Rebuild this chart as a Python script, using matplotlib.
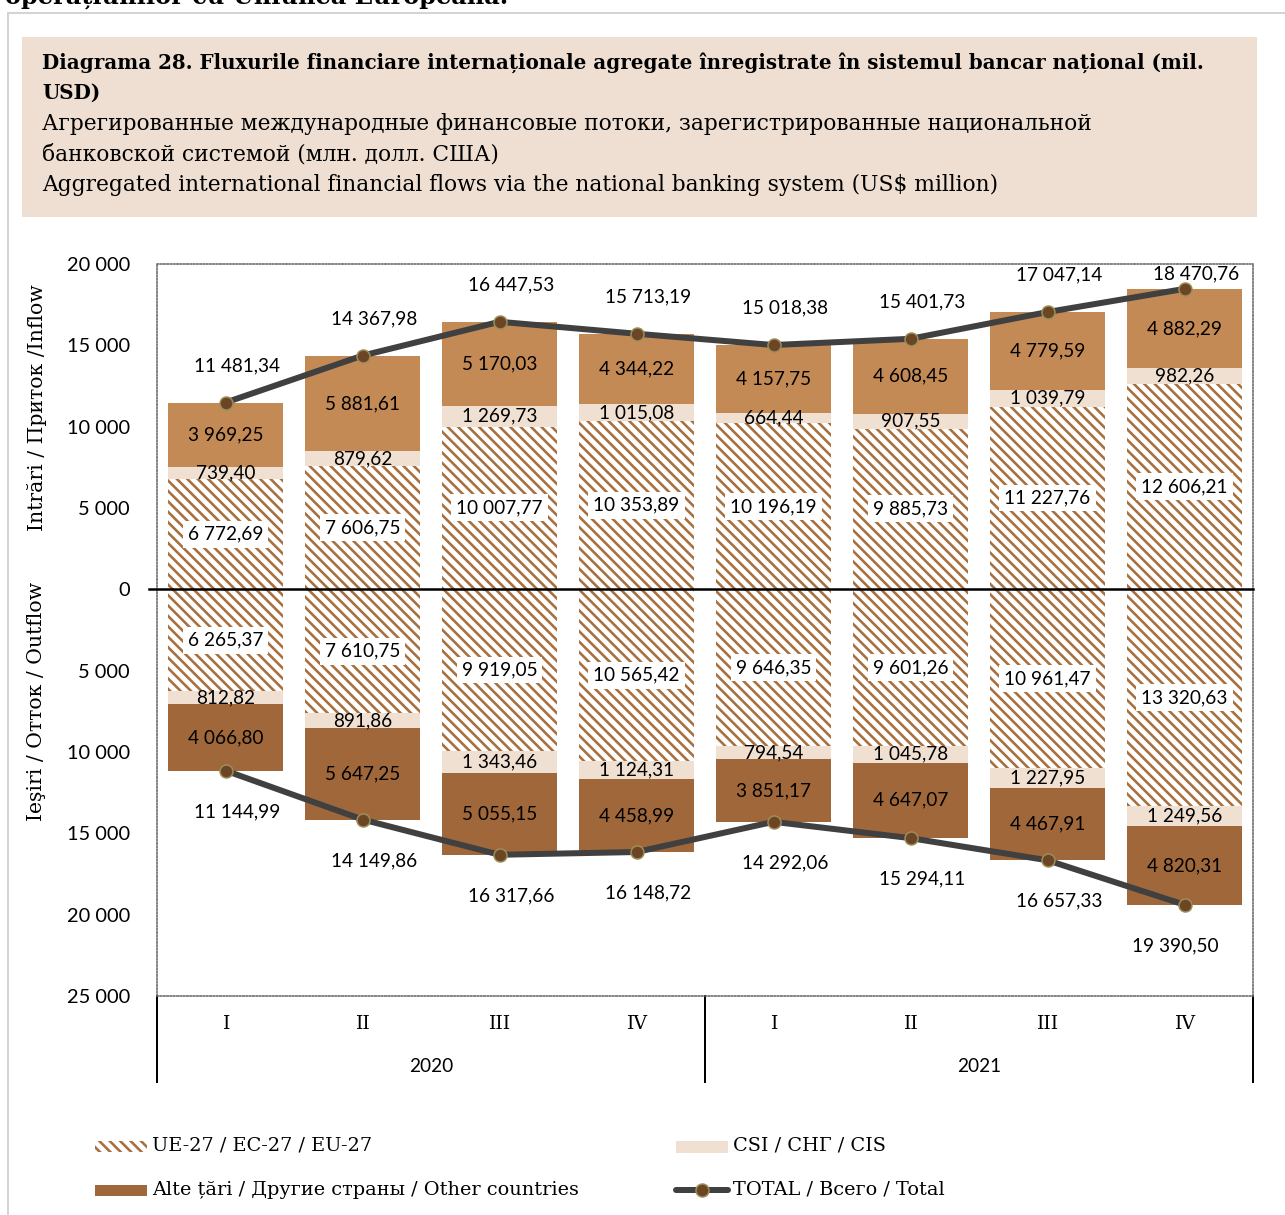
import matplotlib
matplotlib.use("Agg")
import matplotlib.pyplot as plt
from matplotlib.patches import Rectangle
from matplotlib.lines import Line2D
import numpy as np

# ---------------- data ----------------
quarters = ["I", "II", "III", "IV", "I", "II", "III", "IV"]
years = ["2020", "2021"]

in_eu = [6772.69, 7606.75, 10007.77, 10353.89, 10196.19, 9885.73, 11227.76, 12606.21]
in_cis = [739.40, 879.62, 1269.73, 1015.08, 664.44, 907.55, 1039.79, 982.26]
in_other = [3969.25, 5881.61, 5170.03, 4344.22, 4157.75, 4608.45, 4779.59, 4882.29]
in_total = [11481.34, 14367.98, 16447.53, 15713.19, 15018.38, 15401.73, 17047.14, 18470.76]

out_eu = [6265.37, 7610.75, 9919.05, 10565.42, 9646.35, 9601.26, 10961.47, 13320.63]
out_cis = [812.82, 891.86, 1343.46, 1124.31, 794.54, 1045.78, 1227.95, 1249.56]
out_other = [4066.80, 5647.25, 5055.15, 4458.99, 3851.17, 4647.07, 4467.91, 4820.31]
out_total = [11144.99, 14149.86, 16317.66, 16148.72, 14292.06, 15294.11, 16657.33, 19390.50]

yticks = [20000, 15000, 10000, 5000, 0, -5000, -10000, -15000, -20000, -25000]

legend_labels = ["UE-27 / EC-27 / EU-27", "CSI / СНГ / CIS",
                 "Alte țări / Другие страны / Other countries", "TOTAL / Всего / Total"]

title_bold = ["Diagrama 28. Fluxurile financiare internaționale agregate înregistrate în sistemul bancar național (mil.",
              "USD)"]
title_lines = ["Агрегированные международные финансовые потоки, зарегистрированные национальной",
               "банковской системой (млн. долл. США)",
               "Aggregated international financial flows via the national banking system (US$ million)"]
top_cut = "operațiunilor cu Uniunea Europeană."
ylab_in = "Intrări / Приток /Inflow"
ylab_out = "Ieşiri / Отток / Outflow"

# ---------------- style ----------------
W, H, DPI = 1285, 1215, 125
def fx(px): return px / W
def fy(py): return 1 - py / H
def pt(px): return px * 72 / DPI

C_HATCH = "#A8703E"
C_CIS = "#F0E0D2"
C_IN_OTHER = "#C48A55"
C_OUT_OTHER = "#A0683A"
C_LINE = "#404040"
C_MFACE = "#6B4524"
C_MEDGE = "#9C8F5A"
C_BOX = "#EEDFD2"

SERIF = "DejaVu Serif"
SANS = "Lato"
HATCH = "\\\\\\\\"

plt.rcParams["hatch.linewidth"] = 1.5
plt.rcParams["font.family"] = [SANS, "DejaVu Sans"]

fig = plt.figure(figsize=(W / DPI, H / DPI), dpi=DPI)
fig.patch.set_facecolor("white")

# outer frame
fig.add_artist(Line2D([fx(8), fx(8)], [fy(13), fy(1215)], color="#D4D4D4", lw=pt(2)))
fig.add_artist(Line2D([fx(8), fx(1285)], [fy(13), fy(13)], color="#D4D4D4", lw=pt(2)))
fig.text(fx(5), fy(4), top_cut, family=SERIF, weight="bold", fontsize=pt(24),
         ha="left", va="baseline")

# title box
fig.add_artist(Rectangle((fx(22), fy(217)), fx(1257) - fx(22), fy(37) - fy(217),
                         transform=fig.transFigure, facecolor=C_BOX, edgecolor="none"))
for i, line in enumerate(title_bold):
    fig.text(fx(42), fy(63 + 30 * i), line, family=SERIF, weight="bold", fontsize=pt(19.9),
             ha="left", va="center")
for i, line in enumerate(title_lines):
    fig.text(fx(42), fy(124 + 30.5 * i), line, family=SERIF, fontsize=pt(21.8),
             ha="left", va="center")

# axes
ax = fig.add_axes([fx(157), fy(996), fx(1253) - fx(157), fy(264) - fy(996)])
x = np.arange(len(quarters))
bw = 0.84
ax.set_xlim(-0.5, len(quarters) - 0.5)
ax.set_ylim(-25000, 20000)

in_eu_a = np.array(in_eu); in_cis_a = np.array(in_cis); in_oth_a = np.array(in_other)
out_eu_a = -np.array(out_eu); out_cis_a = -np.array(out_cis); out_oth_a = -np.array(out_other)

ax.bar(x, in_eu_a, bw, color="white", edgecolor=C_HATCH, hatch=HATCH, lw=0, zorder=2)
ax.bar(x, in_cis_a, bw, bottom=in_eu_a, color=C_CIS, lw=0, zorder=2)
ax.bar(x, in_oth_a, bw, bottom=in_eu_a + in_cis_a, color=C_IN_OTHER, lw=0, zorder=2)
ax.bar(x, out_eu_a, bw, color="white", edgecolor=C_HATCH, hatch=HATCH, lw=0, zorder=2)
ax.bar(x, out_cis_a, bw, bottom=out_eu_a, color=C_CIS, lw=0, zorder=2)
ax.bar(x, out_oth_a, bw, bottom=out_eu_a + out_cis_a, color=C_OUT_OTHER, lw=0, zorder=2)

line_kw = dict(color=C_LINE, lw=pt(6), marker="o", ms=pt(13), mfc=C_MFACE, mec=C_MEDGE,
               mew=pt(1.5), zorder=4, solid_capstyle="round")
ax.plot(x, in_total, **line_kw)
ax.plot(x, -np.array(out_total), **line_kw)

ax.axhline(0, xmin=-0.007, xmax=1, color="black", lw=pt(2.5), zorder=3, clip_on=False)

def fmt(v):
    return f"{abs(v):,.2f}".replace(",", " ").replace(".", ",")

LFS = pt(19)
box = dict(facecolor="white", edgecolor="none", pad=pt(5))
for i in range(len(x)):
    # inflow
    ax.text(x[i], in_eu_a[i] / 2, fmt(in_eu_a[i]), ha="center", va="center",
            fontsize=LFS, bbox=box, zorder=5)
    ax.text(x[i], in_eu_a[i] + in_cis_a[i] / 2, fmt(in_cis_a[i]), ha="center",
            va="center", fontsize=LFS, zorder=5)
    ax.text(x[i], in_eu_a[i] + in_cis_a[i] + in_oth_a[i] / 2, fmt(in_oth_a[i]),
            ha="center", va="center", fontsize=LFS, zorder=5)
    # outflow
    ax.text(x[i], out_eu_a[i] / 2, fmt(out_eu_a[i]), ha="center", va="center",
            fontsize=LFS, bbox=box, zorder=5)
    ax.text(x[i], out_eu_a[i] + out_cis_a[i] / 2, fmt(out_cis_a[i]), ha="center",
            va="center", fontsize=LFS, zorder=5)
    ax.text(x[i], out_eu_a[i] + out_cis_a[i] + out_oth_a[i] / 2, fmt(out_oth_a[i]),
            ha="center", va="center", fontsize=LFS, zorder=5)

# total labels (offset in pixels, clamped to plot area)
px_per_unit = 732 / 45000
for i in range(len(x)):
    yp = 589.4 - in_total[i] * px_per_unit
    ly = max(yp - 37, 274)
    dy = (yp - ly)
    ax.annotate(fmt(in_total[i]), (x[i], in_total[i]), xytext=(pt(12), pt(dy)),
                textcoords="offset points", ha="center", va="center", fontsize=LFS, zorder=6)
    dx = 12 if i < len(x) - 1 else -9
    ax.annotate(fmt(out_total[i]), (x[i], -out_total[i]), xytext=(pt(dx), -pt(41)),
                textcoords="offset points", ha="center", va="center", fontsize=LFS, zorder=6)

# axes styling
for s in ax.spines.values():
    s.set_linestyle((0, (1, 1.2)))
    s.set_color("#606060")
    s.set_linewidth(pt(1.5))
ax.set_yticks(yticks)
ax.set_yticklabels([fmt(v).split(",")[0] for v in yticks], fontsize=pt(20))
ax.tick_params(axis="y", length=0, pad=pt(27))
ax.set_xticks([])

def ay(py): return (996 - py) / 732
xt = ax.get_xaxis_transform()
for i, q in enumerate(quarters):
    ax.text(x[i], ay(1024), q, transform=xt, ha="center", va="center",
            family=SERIF, fontsize=pt(19), clip_on=False)
for j, yr in enumerate(years):
    ax.text(1.5 + 4 * j, ay(1067), yr, transform=xt, ha="center", va="center",
            fontsize=pt(19), clip_on=False)
for xv in [-0.5, 3.5, 7.5]:
    ax.plot([xv, xv], [0, ay(1082)], transform=xt, color="black", lw=pt(2), clip_on=False)

fig.text(fx(37), fy(408), ylab_in, rotation=90, ha="center", va="center",
         family=SERIF, fontsize=pt(20.4))
fig.text(fx(37), fy(701), ylab_out, rotation=90, ha="center", va="center",
         family=SERIF, fontsize=pt(20.4))

# legend
def lrect(x0, x1, y0, y1, **kw):
    fig.add_artist(Rectangle((fx(x0), fy(y1)), fx(x1) - fx(x0), fy(y0) - fy(y1),
                             transform=fig.transFigure, **kw))
lrect(95, 147, 1141, 1152, facecolor="white", edgecolor=C_HATCH, hatch=HATCH, lw=0)
lrect(676, 728, 1141, 1153, facecolor=C_CIS, edgecolor="none")
lrect(95, 147, 1185, 1196, facecolor=C_OUT_OTHER, edgecolor="none")
fig.add_artist(Line2D([fx(676), fx(728)], [fy(1190), fy(1190)], color=C_LINE, lw=pt(6),
                      solid_capstyle="round"))
fig.add_artist(Line2D([fx(702)], [fy(1190)], marker="o", ms=pt(13), mfc=C_MFACE,
                      mec=C_MEDGE, mew=pt(1.5)))
for (lx, ly), lab in zip([(152, 1146), (733, 1146), (152, 1190), (733, 1190)], legend_labels):
    fig.text(fx(lx), fy(ly), lab, ha="left", va="center", family=SERIF, fontsize=pt(19.3))

fig.savefig("out.png", dpi=DPI, facecolor="white")
